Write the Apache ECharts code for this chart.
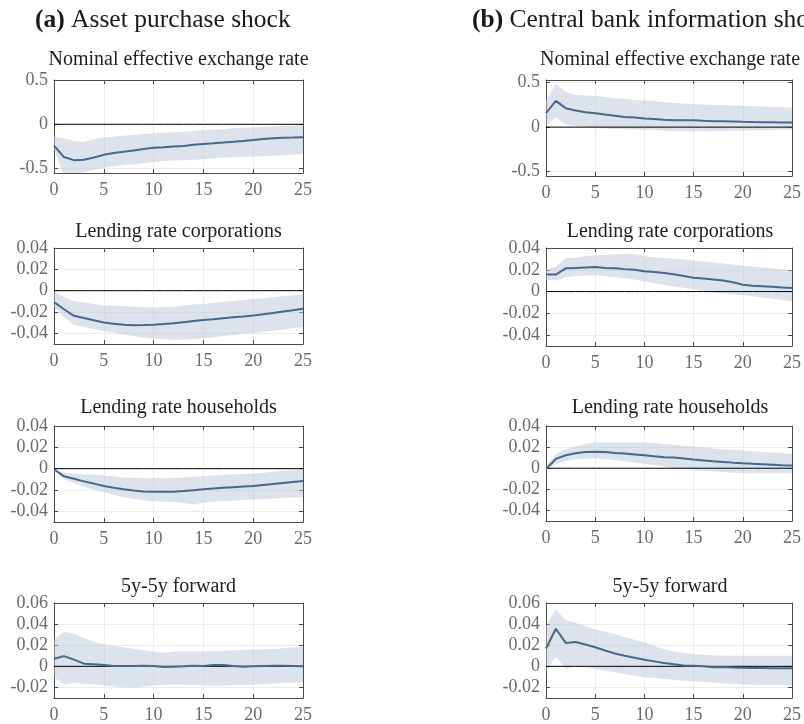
<!DOCTYPE html>
<html>
<head>
<meta charset="utf-8">
<script src="https://cdn.jsdelivr.net/npm/echarts@6/dist/echarts.min.js"></script>
<style>
  html, body { margin: 0; padding: 0; background: #fff; }
  #chart { width: 804px; height: 724px; }
</style>
</head>
<body>
<div id="chart"></div>
<script>
// Horizon (months after the shock)
const horizon = [0,1,2,3,4,5,6,7,8,9,10,11,12,13,14,15,16,17,18,19,20,21,22,23,24,25];

// Panel headings
const columnTitles = ['Asset purchase shock', 'Central bank information shock'];
const columnTags = ['(a)', '(b)'];
const variableNames = ['Nominal effective exchange rate', 'Lending rate corporations', 'Lending rate households', '5y-5y forward'];

// y tick labels per row
const yTicksRow1 = [-0.5, 0, 0.5];
const yTicksRow2 = [-0.04, -0.02, 0, 0.02, 0.04];
const yTicksRow3 = [-0.04, -0.02, 0, 0.02, 0.04];
const yTicksRow4 = [-0.02, 0, 0.02, 0.04, 0.06];

// (a) Asset purchase shock: nominal effective exchange rate
const neerA_mid = [-0.24,-0.37,-0.405,-0.40,-0.375,-0.345,-0.325,-0.31,-0.295,-0.28,-0.265,-0.258,-0.25,-0.245,-0.232,-0.222,-0.215,-0.207,-0.198,-0.188,-0.177,-0.165,-0.157,-0.153,-0.15,-0.145];
const neerA_hi  = [-0.135,-0.16,-0.19,-0.2,-0.165,-0.15,-0.14,-0.13,-0.12,-0.11,-0.10,-0.095,-0.09,-0.085,-0.075,-0.065,-0.06,-0.055,-0.045,-0.04,-0.035,-0.03,-0.025,-0.02,-0.015,-0.01];
const neerA_lo  = [-0.28,-0.58,-0.62,-0.545,-0.51,-0.49,-0.475,-0.46,-0.45,-0.44,-0.425,-0.415,-0.41,-0.405,-0.4,-0.395,-0.385,-0.375,-0.372,-0.37,-0.365,-0.36,-0.355,-0.35,-0.342,-0.335];

// (b) Central bank information shock: nominal effective exchange rate
const neerB_mid = [0.157,0.295,0.213,0.186,0.168,0.157,0.141,0.127,0.115,0.108,0.097,0.09,0.082,0.078,0.078,0.078,0.072,0.067,0.066,0.064,0.06,0.057,0.055,0.054,0.053,0.052];
const neerB_hi  = [0.30,0.485,0.40,0.362,0.355,0.35,0.34,0.325,0.315,0.305,0.298,0.29,0.28,0.272,0.265,0.258,0.254,0.25,0.248,0.244,0.239,0.235,0.231,0.227,0.224,0.22];
const neerB_lo  = [0.015,0.112,0.026,0.015,0.0,-0.011,-0.015,-0.02,-0.023,-0.027,-0.03,-0.033,-0.038,-0.045,-0.047,-0.048,-0.045,-0.042,-0.04,-0.038,-0.037,-0.035,-0.034,-0.032,-0.031,-0.03];

// (a) Lending rate corporations
const corpA_mid = [-0.0108,-0.0174,-0.0236,-0.0256,-0.0278,-0.0298,-0.031,-0.032,-0.0325,-0.0323,-0.032,-0.0313,-0.0305,-0.0295,-0.0285,-0.0275,-0.0267,-0.0258,-0.025,-0.0242,-0.0233,-0.0222,-0.021,-0.0196,-0.0183,-0.017];
const corpA_hi  = [-0.0013,-0.006,-0.010,-0.011,-0.0125,-0.014,-0.0142,-0.0144,-0.015,-0.0155,-0.0157,-0.0155,-0.015,-0.014,-0.013,-0.0125,-0.0115,-0.0106,-0.0097,-0.0088,-0.0079,-0.0071,-0.0062,-0.0053,-0.0045,-0.0036];
const corpA_lo  = [-0.015,-0.025,-0.032,-0.034,-0.036,-0.038,-0.0395,-0.041,-0.0425,-0.044,-0.045,-0.0455,-0.046,-0.046,-0.0453,-0.0446,-0.0436,-0.0426,-0.0416,-0.0406,-0.0397,-0.0386,-0.0375,-0.0363,-0.0352,-0.034];

// (b) Lending rate corporations
const corpB_mid = [0.0156,0.0156,0.0213,0.0216,0.0222,0.0225,0.0216,0.0213,0.0206,0.02,0.0187,0.0179,0.0171,0.0159,0.0143,0.0127,0.0119,0.0111,0.0102,0.0085,0.0063,0.0054,0.0049,0.0044,0.0038,0.0032];
const corpB_hi  = [0.0203,0.0229,0.0308,0.0308,0.0324,0.0333,0.0337,0.034,0.0343,0.0346,0.0324,0.0316,0.0308,0.0301,0.0294,0.0286,0.0276,0.0267,0.0258,0.0248,0.0238,0.023,0.0222,0.0213,0.0205,0.0197];
const corpB_lo  = [0.0111,0.0102,0.0133,0.0143,0.0146,0.0149,0.0141,0.0133,0.0122,0.0111,0.0092,0.0076,0.006,0.0047,0.0035,0.0022,0.0006,-0.001,-0.0018,-0.0025,-0.0032,-0.0043,-0.0054,-0.0066,-0.0078,-0.0089];

// (a) Lending rate households
const hhA_mid = [-0.0006,-0.0072,-0.0094,-0.0119,-0.014,-0.0163,-0.0179,-0.0194,-0.0205,-0.0213,-0.0216,-0.0216,-0.0216,-0.021,-0.0202,-0.0194,-0.0187,-0.018,-0.0174,-0.0168,-0.0163,-0.0153,-0.0144,-0.0134,-0.0125,-0.0116];
const hhA_hi  = [-0.0006,-0.0038,-0.0047,-0.0053,-0.0058,-0.0063,-0.0072,-0.0084,-0.0086,-0.0088,-0.0088,-0.0088,-0.0088,-0.0082,-0.0075,-0.0069,-0.0063,-0.0058,-0.0053,-0.005,-0.0047,-0.0039,-0.003,-0.0022,-0.0014,-0.0006];
const hhA_lo  = [-0.0016,-0.0097,-0.0134,-0.0172,-0.0197,-0.0219,-0.0244,-0.0266,-0.0283,-0.0297,-0.0306,-0.031,-0.0313,-0.0323,-0.0334,-0.0319,-0.031,-0.0303,-0.0298,-0.0293,-0.0288,-0.0284,-0.028,-0.0275,-0.027,-0.0266];

// (b) Lending rate households
const hhB_mid = [-0.0006,0.0088,0.0123,0.0142,0.0154,0.0157,0.0154,0.0145,0.0139,0.0131,0.0123,0.0113,0.0104,0.0101,0.0092,0.0082,0.0074,0.0066,0.006,0.0053,0.0047,0.0042,0.0038,0.0034,0.0029,0.0025];
const hhB_hi  = [0.0016,0.0135,0.018,0.0205,0.023,0.0246,0.0246,0.0246,0.0246,0.0246,0.0246,0.0238,0.023,0.0222,0.0213,0.0205,0.0197,0.0188,0.018,0.0173,0.0167,0.016,0.0154,0.0148,0.0141,0.0135];
const hhB_lo  = [-0.0016,0.0041,0.0069,0.0085,0.009,0.0094,0.0087,0.0079,0.0066,0.0054,0.0041,0.0028,0.0016,0.0005,-0.0006,-0.0016,-0.0024,-0.0031,-0.0036,-0.0042,-0.0047,-0.0047,-0.0047,-0.0047,-0.0047,-0.0047];

// (a) 5y-5y forward
const fwdA_mid = [0.0072,0.0097,0.0063,0.0025,0.0019,0.0013,0.0003,0.0003,0.0004,0.0006,0.0003,-0.0006,-0.0003,0,0.0006,0.0003,0.0013,0.0013,0.0003,-0.0003,0,0.0003,0.0006,0.0006,0.0003,0];
const fwdA_hi  = [0.0256,0.0325,0.031,0.0266,0.0234,0.0209,0.0194,0.0178,0.0166,0.0153,0.0141,0.0128,0.0141,0.0141,0.0141,0.0141,0.0144,0.0147,0.015,0.0155,0.0159,0.0162,0.0165,0.0172,0.0178,0.0184];
const fwdA_lo  = [-0.0103,-0.0172,-0.0159,-0.0166,-0.0173,-0.0181,-0.0189,-0.0197,-0.0203,-0.0192,-0.0181,-0.0177,-0.0172,-0.0175,-0.0178,-0.0181,-0.0183,-0.0184,-0.018,-0.0176,-0.0172,-0.0167,-0.0163,-0.0159,-0.0155,-0.015];

// (b) 5y-5y forward
const fwdB_mid = [0.0169,0.0356,0.0222,0.0231,0.0206,0.0181,0.015,0.0122,0.01,0.0081,0.0063,0.0047,0.0031,0.0019,0.0009,0.0006,0,-0.0009,-0.0006,-0.001,-0.0013,-0.0015,-0.0016,-0.0017,-0.0018,-0.0019];
const fwdB_hi  = [0.038,0.0538,0.0438,0.0413,0.038,0.035,0.0327,0.0303,0.0277,0.0251,0.0225,0.0194,0.0163,0.0141,0.0128,0.0116,0.011,0.0103,0.0102,0.0101,0.01,0.01,0.01,0.01,0.01,0.01];
const fwdB_lo  = [-0.0047,0.0094,-0.0025,0.0006,-0.001,-0.0025,-0.004,-0.0056,-0.0072,-0.0088,-0.0103,-0.0111,-0.0119,-0.0126,-0.0134,-0.0141,-0.0147,-0.0153,-0.016,-0.0166,-0.0172,-0.0174,-0.0176,-0.0178,-0.018,-0.0181];

// ---- layout & styling ----
const SERIF = '"Liberation Serif", "DejaVu Serif", serif';
const LINE_COLOR = '#48678d';
const BAND_COLOR = 'rgba(185,200,215,0.5)';
const BOX_COLOR = '#4a4a4a';
const LABEL_COLOR = '#6a6a6a';
const GRIDLINE_COLOR = '#ececec';

const panels = [
  { col: 0, row: 0, mid: neerA_mid, lo: neerA_lo, hi: neerA_hi, ymin: -0.55, ymax: 0.5, ticks: yTicksRow1, top: 80, height: 93 },
  { col: 1, row: 0, mid: neerB_mid, lo: neerB_lo, hi: neerB_hi, ymin: -0.55, ymax: 0.53, ticks: yTicksRow1, top: 80, height: 96 },
  { col: 0, row: 1, mid: corpA_mid, lo: corpA_lo, hi: corpA_hi, ymin: -0.05, ymax: 0.04, ticks: yTicksRow2, top: 248, height: 96 },
  { col: 1, row: 1, mid: corpB_mid, lo: corpB_lo, hi: corpB_hi, ymin: -0.05, ymax: 0.04, ticks: yTicksRow2, top: 248, height: 98 },
  { col: 0, row: 2, mid: hhA_mid, lo: hhA_lo, hi: hhA_hi, ymin: -0.05, ymax: 0.04, ticks: yTicksRow3, top: 426, height: 96 },
  { col: 1, row: 2, mid: hhB_mid, lo: hhB_lo, hi: hhB_hi, ymin: -0.05, ymax: 0.04, ticks: yTicksRow3, top: 426, height: 95 },
  { col: 0, row: 3, mid: fwdA_mid, lo: fwdA_lo, hi: fwdA_hi, ymin: -0.03, ymax: 0.06, ticks: yTicksRow4, top: 603, height: 96 },
  { col: 1, row: 3, mid: fwdB_mid, lo: fwdB_lo, hi: fwdB_hi, ymin: -0.03, ymax: 0.06, ticks: yTicksRow4, top: 603, height: 96 }
];
const colLeft = [54, 546];
const colWidth = [249, 248];
const titleCenterY = [60, 232, 408, 587];

const grid = [], xAxis = [], yAxis = [], series = [], title = [];

columnTags.forEach((tag, c) => {
  title.push({
    text: '{b|' + tag + '} ' + columnTitles[c],
    left: c === 0 ? 35 : 472,
    top: 7,
    padding: 0,
    textStyle: {
      fontFamily: SERIF, fontSize: 25.5, fontWeight: 'normal', color: '#1a1a1a',
      rich: { b: { fontFamily: SERIF, fontSize: 25.5, fontWeight: 'bold', color: '#1a1a1a' } }
    }
  });
});

const xyPairs = (arr) => horizon.map((h, i) => [h, arr[i]]);

// Shaded band: one polygon along the upper bound and back along the lower bound
const bandRenderer = (lo, hi) => (params, api) => {
  if (params.dataIndex !== 0) return null;
  const pts = [];
  horizon.forEach((h, k) => pts.push(api.coord([h, hi[k]])));
  for (let k = horizon.length - 1; k >= 0; k--) pts.push(api.coord([horizon[k], lo[k]]));
  return {
    type: 'polygon',
    shape: { points: pts },
    style: { fill: BAND_COLOR, stroke: null },
    silent: true
  };
};

panels.forEach((p, i) => {
  const left = colLeft[p.col], width = colWidth[p.col];
  grid.push({ left: left, top: p.top, width: width, height: p.height, containLabel: false });

  title.push({
    text: variableNames[p.row],
    left: left + width / 2,
    top: titleCenterY[p.row] - 11,
    textAlign: 'center',
    padding: 0,
    textStyle: { fontFamily: SERIF, fontSize: 20, fontWeight: 'normal', color: '#1f1f1f', lineHeight: 22 }
  });

  const lineStyle = { color: BOX_COLOR, width: 1 };
  // bottom axis with labels
  xAxis.push({
    gridIndex: i, type: 'value', min: 0, max: 25, interval: 5, position: 'bottom',
    axisLine: { show: true, onZero: false, lineStyle },
    axisTick: { show: true, inside: true, length: 4, lineStyle },
    axisLabel: { show: true, margin: 8, fontFamily: SERIF, fontSize: 18, color: LABEL_COLOR },
    splitLine: { show: true, lineStyle: { color: GRIDLINE_COLOR, width: 1 } }
  });
  // top edge of the box
  xAxis.push({
    gridIndex: i, type: 'value', min: 0, max: 25, interval: 5, position: 'top',
    axisLine: { show: true, onZero: false, lineStyle },
    axisTick: { show: true, inside: true, length: 4, lineStyle },
    axisLabel: { show: false }, splitLine: { show: false }
  });
  // left axis with labels
  yAxis.push({
    gridIndex: i, type: 'value', min: p.ymin, max: p.ymax, position: 'left',
    axisLine: { show: true, onZero: false, lineStyle },
    axisTick: { show: true, inside: true, length: 4, lineStyle, customValues: p.ticks },
    axisLabel: { show: true, margin: 6, fontFamily: SERIF, fontSize: 18, color: LABEL_COLOR, customValues: p.ticks,
                 formatter: (v) => (v === 0 ? '0' : String(v)) },
    splitLine: { show: true, lineStyle: { color: GRIDLINE_COLOR, width: 1 } }
  });
  // right edge of the box
  yAxis.push({
    gridIndex: i, type: 'value', min: p.ymin, max: p.ymax, position: 'right',
    axisLine: { show: true, onZero: false, lineStyle },
    axisTick: { show: true, inside: true, length: 4, lineStyle, customValues: p.ticks },
    axisLabel: { show: false, customValues: p.ticks }, splitLine: { show: false }
  });

  const xi = 2 * i, yi = 2 * i;
  // zero reference line
  series.push({
    type: 'line', xAxisIndex: xi, yAxisIndex: yi, symbol: 'none', silent: true,
    data: horizon.map((h) => [h, 0]),
    lineStyle: { color: '#000', width: 1 }
  });
  // confidence band
  series.push({
    type: 'custom', xAxisIndex: xi, yAxisIndex: yi, clip: true, silent: true,
    renderItem: bandRenderer(p.lo, p.hi),
    encode: { x: 0, y: [1, 2] },
    data: horizon.map((h, k) => [h, p.lo[k], p.hi[k]])
  });
  // median response
  series.push({
    type: 'line', xAxisIndex: xi, yAxisIndex: yi, symbol: 'none',
    data: xyPairs(p.mid),
    lineStyle: { color: LINE_COLOR, width: 2 }
  });
});

const chart = echarts.init(document.getElementById('chart'), null, { renderer: 'canvas' });
chart.setOption({
  animation: false,
  backgroundColor: '#ffffff',
  title, grid, xAxis, yAxis, series
});
</script>
</body>
</html>
